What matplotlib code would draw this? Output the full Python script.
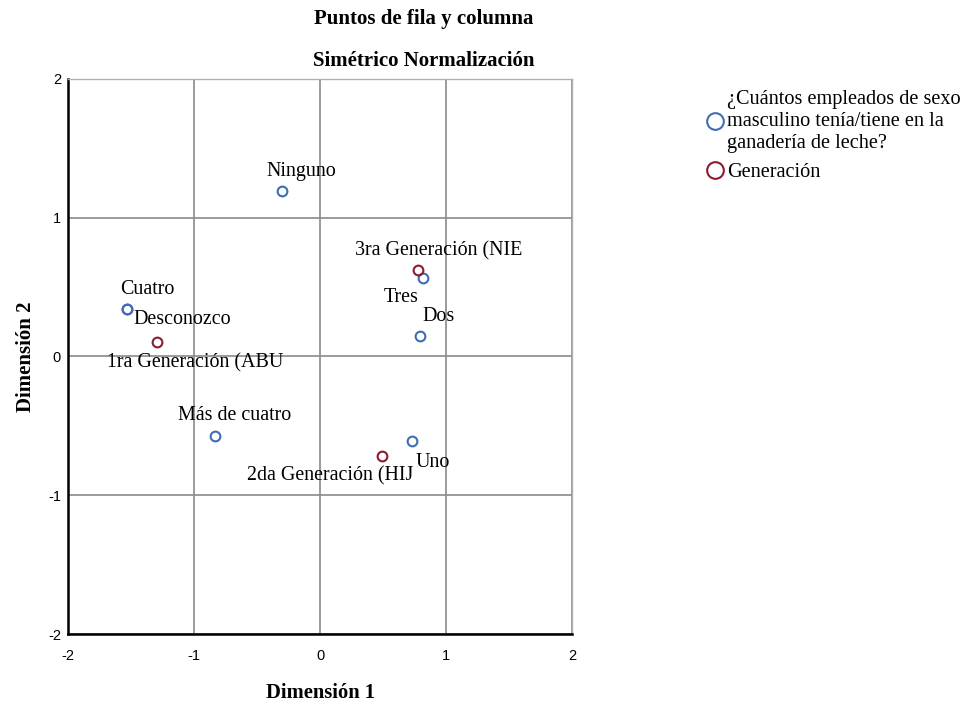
import matplotlib
matplotlib.use("Agg")
import matplotlib.pyplot as plt
from matplotlib.lines import Line2D

# Data
row_labels = ["Ninguno", "Uno", "Dos", "Tres", "Cuatro", "Más de cuatro", "Desconozco"]
row_x = [-0.30, 0.73, 0.79, 0.82, -1.53, -0.83, -1.53]
row_y = [1.19, -0.61, 0.15, 0.565, 0.34, -0.57, 0.34]

col_labels = ["1ra Generación (ABU", "2da Generación (HIJ", "3ra Generación (NIE"]
col_x = [-1.29, 0.49, 0.78]
col_y = [0.105, -0.72, 0.62]

ticks = [-2, -1, 0, 1, 2]

# label offsets in pixels (layout only)
offsets = {
    "Ninguno": (19, 20), "Uno": (21, -21), "Dos": (19, 19), "Tres": (-22, -19),
    "Cuatro": (20, 20), "Más de cuatro": (19, 20), "Desconozco": (55, -10),
    "1ra Generación (ABU": (38, -21), "2da Generación (HIJ": (-52, -19),
    "3ra Generación (NIE": (20, 20),
}

blue = "#3d6db5"
red = "#8c1c2c"
serif = ["Liberation Serif", "DejaVu Serif"]
sans = ["Liberation Sans", "DejaVu Sans"]

fig = plt.figure(figsize=(9.7, 7.05), dpi=100)
ax = fig.add_axes([0.0701, 0.1007, 0.5196, 0.7873])
ax.set_xlim(-2, 2)
ax.set_ylim(-2, 2)
ax.set_xticks(ticks)
ax.set_yticks(ticks)
ax.set_xticklabels([str(t) for t in ticks], fontfamily=sans, fontsize=10.5)
ax.set_yticklabels([str(t) for t in ticks], fontfamily=sans, fontsize=10.5)
ax.tick_params(axis="x", length=0, pad=11)
ax.tick_params(axis="y", length=0, pad=5)
ax.grid(True, color="#8a8a8a", linewidth=1.2)
ax.set_axisbelow(True)
for s in ["top", "right"]:
    ax.spines[s].set_color("#b0b0b0")
    ax.spines[s].set_linewidth(1.0)
for s in ["left", "bottom"]:
    ax.spines[s].set_color("black")
    ax.spines[s].set_linewidth(1.8)

ax.plot(row_x, row_y, linestyle="none", marker="o", ms=7, mfc="none",
        mec=blue, mew=1.5, zorder=3)
ax.plot(col_x, col_y, linestyle="none", marker="o", ms=7, mfc="none",
        mec=red, mew=1.5, zorder=3)

for lab, x, y in list(zip(row_labels, row_x, row_y)) + list(zip(col_labels, col_x, col_y)):
    dx, dy = offsets[lab]
    ax.annotate(lab, (x, y), xytext=(dx, dy), textcoords="offset pixels",
                ha="center", va="center", fontfamily=serif, fontsize=14.4,
                zorder=4)

ax.set_xlabel("Dimensión 1", fontfamily=serif, fontweight="bold", fontsize=14.8,
              labelpad=14)
ax.set_ylabel("Dimensión 2", fontfamily=serif, fontweight="bold", fontsize=15,
              labelpad=9)

fig.text(424 / 970, 1 - 19 / 705, "Puntos de fila y columna", ha="center",
         va="center", fontfamily=serif, fontweight="bold", fontsize=15)
fig.text(424 / 970, 1 - 61 / 705, "Simétrico Normalización", ha="center",
         va="center", fontfamily=serif, fontweight="bold", fontsize=15)

handles = [Line2D([], [], linestyle="none", marker="o", ms=12, mfc="none",
                  mec=blue, mew=1.5),
           Line2D([], [], linestyle="none", marker="o", ms=12, mfc="none",
                  mec=red, mew=1.5)]
fig.legend(handles,
           ["¿Cuántos empleados de sexo\nmasculino tenía/tiene en la\nganadería de leche?",
            "Generación"],
           loc="upper left", bbox_to_anchor=(703 / 970, 1 - 90 / 705),
           frameon=False, prop={"family": serif, "size": 14.6},
           handletextpad=0.0, handlelength=1.2, labelspacing=0.5,
           borderaxespad=0, borderpad=0)

fig.savefig("out.png", dpi=100)
